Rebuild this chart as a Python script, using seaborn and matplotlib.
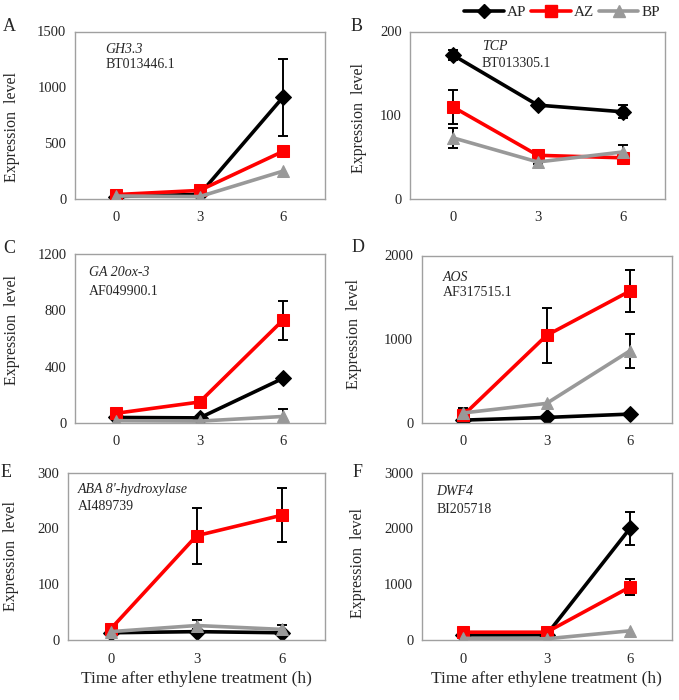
import numpy as np
import pandas as pd
import matplotlib
matplotlib.use("Agg")
import matplotlib.pyplot as plt
import seaborn as sns
from matplotlib.lines import Line2D

sns.set_style("white")
plt.rcParams['font.family'] = ['Liberation Serif', 'DejaVu Serif']

times = ["0", "3", "6"]
tissues = ["AP", "AZ", "BP"]
letters = ["A", "B", "C", "D", "E", "F"]
genes = ["GH3.3", "TCP", "GA 20ox-3", "AOS", "ABA 8'-hydroxylase", "DWF4"]
accessions = ["BT013446.1", "BT013305.1", "AF049900.1", "AF317515.1", "AI489739", "BI205718"]
ymax = [1500, 200, 1200, 2000, 300, 3000]
ystep = [500, 100, 400, 1000, 100, 1000]

# values per panel: AP, AZ, BP
A_AP = [20, 40, 910];   A_AP_err = [0, 0, 345]
A_AZ = [38, 75, 425];   A_AZ_err = [0, 0, 0]
A_BP = [25, 20, 248];   A_BP_err = [0, 0, 0]

B_AP = [172, 112, 104]; B_AP_err = [6, 3, 8]
B_AZ = [110, 52, 49];   B_AZ_err = [20, 3, 3]
B_BP = [73, 44, 56];    B_BP_err = [12, 2, 8]

C_AP = [38, 35, 316];   C_AP_err = [0, 0, 0]
C_AZ = [68, 148, 730];  C_AZ_err = [0, 0, 138]
C_BP = [15, 12, 45];    C_BP_err = [0, 0, 55]

D_AP = [32, 64, 104];   D_AP_err = [0, 0, 0]
D_AZ = [90, 1045, 1575]; D_AZ_err = [0, 330, 254]
D_BP = [118, 232, 860];  D_BP_err = [55, 0, 200]

E_AP = [13, 15, 13];    E_AP_err = [0, 4, 3]
E_AZ = [20, 187, 224];  E_AZ_err = [0, 50, 49]
E_BP = [15, 26, 19];    E_BP_err = [0, 10, 8]

F_AP = [90, 95, 2000];  F_AP_err = [0, 0, 290]
F_AZ = [140, 140, 950]; F_AZ_err = [0, 0, 140]
F_BP = [30, 22, 165];   F_BP_err = [0, 0, 0]

panels = [
    (A_AP, A_AP_err, A_AZ, A_AZ_err, A_BP, A_BP_err),
    (B_AP, B_AP_err, B_AZ, B_AZ_err, B_BP, B_BP_err),
    (C_AP, C_AP_err, C_AZ, C_AZ_err, C_BP, C_BP_err),
    (D_AP, D_AP_err, D_AZ, D_AZ_err, D_BP, D_BP_err),
    (E_AP, E_AP_err, E_AZ, E_AZ_err, E_BP, E_BP_err),
    (F_AP, F_AP_err, F_AZ, F_AZ_err, F_BP, F_BP_err),
]

colors = {"AP": "#000000", "AZ": "#ff0000", "BP": "#999999"}
markers = {"AP": "D", "AZ": "s", "BP": "^"}
msizes = {"AP": 8, "AZ": 9, "BP": 9}

positions = [
    [0.110, 0.716, 0.368, 0.239],
    [0.604, 0.716, 0.376, 0.239],
    [0.110, 0.396, 0.368, 0.241],
    [0.621, 0.396, 0.368, 0.239],
    [0.100, 0.0857, 0.379, 0.239],
    [0.621, 0.0857, 0.368, 0.239],
]
text_pos = [(0.124, 0.89, 0.80), (0.28, 0.91, 0.81), (0.057, 0.89, 0.78),
            (0.085, 0.87, 0.78), (0.04, 0.90, 0.80), (0.06, 0.89, 0.78)]
letter_pos = [(-0.26, 1.03), (-0.21, 1.03), (-0.26, 1.036),
              (-0.256, 1.05), (-0.24, 1.0), (-0.258, 1.0)]
ylabel_pos = [(-0.25, 0.43), (-0.20, 0.485), (-0.25, 0.55),
              (-0.27, 0.53), (-0.22, 0.50), (-0.256, 0.46)]

fig = plt.figure(figsize=(6.79, 7.0), dpi=100)
frame_col = "#a0a0a0"

for i, p in enumerate(panels):
    ax = fig.add_axes(positions[i])
    rows = []
    for k, t in enumerate(tissues):
        vals, errs = p[2 * k], p[2 * k + 1]
        for j, tm in enumerate(times):
            rows.append({"pos": j, "val": vals[j], "err": errs[j], "tissue": t})
    df = pd.DataFrame(rows)
    # error bars
    for t in tissues:
        sub = df[df.tissue == t]
        e = sub["err"].values
        if np.any(e > 0):
            ax.errorbar(sub["pos"], sub["val"], yerr=np.where(e > 0, e, np.nan),
                        fmt="none", ecolor="black", elinewidth=1.4, capsize=3.5,
                        capthick=1.4, zorder=1)
    for zi, t in enumerate(tissues):
        sub = df[df.tissue == t]
        sns.lineplot(data=sub, x="pos", y="val", ax=ax, color=colors[t],
                     marker=markers[t], markersize=msizes[t], markeredgecolor=colors[t],
                     linewidth=2.6, legend=False, zorder=2 + zi)
    ax.set_xlim(-0.5, 2.5)
    ax.set_ylim(0, ymax[i])
    ax.set_xticks([0, 1, 2])
    ax.set_xticklabels(times)
    ax.set_xticks([0.5, 1.5], minor=True)
    ax.set_yticks(np.arange(0, ymax[i] + 1, ystep[i]))
    ax.tick_params(axis="both", which="major", length=0, labelsize=10.5, pad=6)
    ax.tick_params(axis="x", which="minor", direction="in", length=4, color=frame_col, width=0.9)
    ax.tick_params(axis="x", which="major", pad=9)
    for s in ax.spines.values():
        s.set_color(frame_col)
        s.set_linewidth(1.0)
    ax.set_ylabel("Expression  level", fontsize=11.5, va="center")
    ax.yaxis.set_label_coords(*ylabel_pos[i])
    if i >= 4:
        ax.set_xlabel("Time after ethylene treatment (h)", fontsize=12.5, labelpad=4)
    else:
        ax.set_xlabel("")
    tx, ty1, ty2 = text_pos[i]
    ax.text(tx, ty1, genes[i], transform=ax.transAxes, fontsize=10, style="italic", va="center")
    ax.text(tx, ty2, accessions[i], transform=ax.transAxes, fontsize=10, va="center")
    lx, ly = letter_pos[i]
    ax.text(lx, ly, letters[i], transform=ax.transAxes,
            fontsize=13, va="center", ha="center")

handles = [Line2D([0], [0], color=colors[t], marker=markers[t], markersize=msizes[t] - 1,
                  linewidth=2.6) for t in tissues]
fig.legend(handles, tissues, loc="center", bbox_to_anchor=(0.828, 0.982), ncol=3,
           frameon=False, fontsize=11, handlelength=2.6, columnspacing=0.3, handletextpad=0.2)

fig.savefig("out.png", dpi=100)
